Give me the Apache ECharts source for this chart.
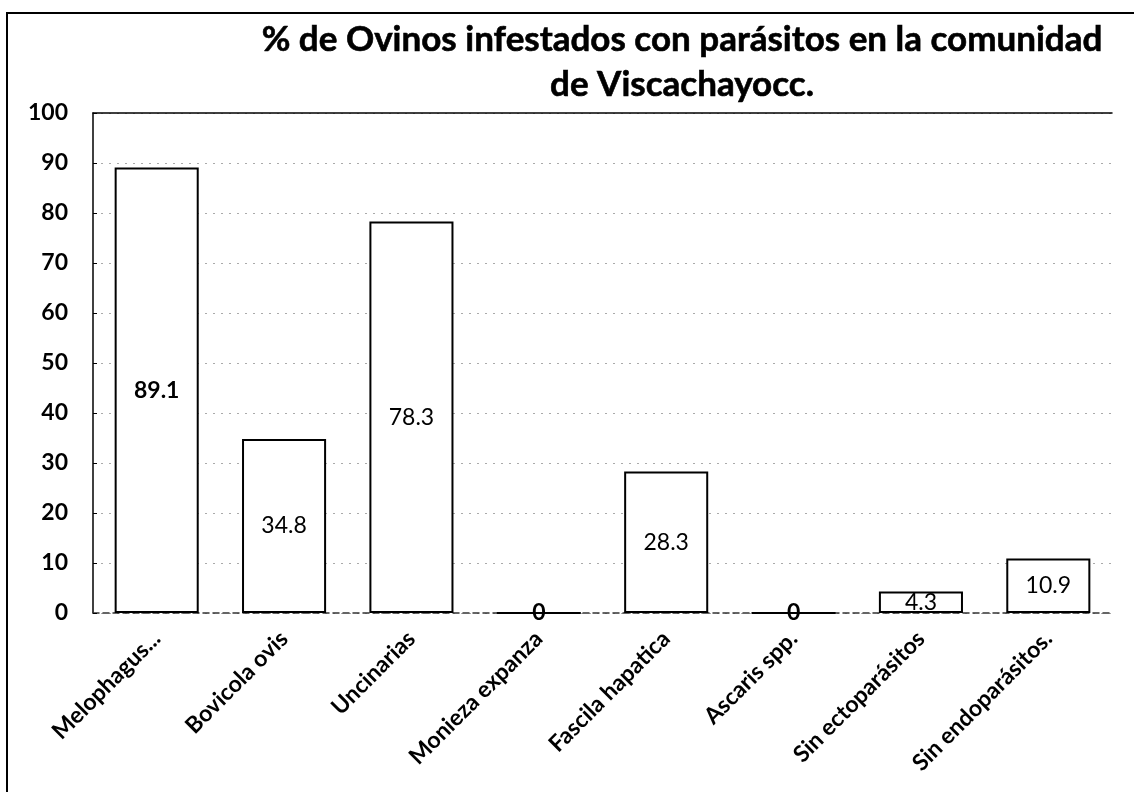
<!DOCTYPE html>
<html>
<head>
<meta charset="utf-8">
<script src="https://cdn.jsdelivr.net/npm/echarts@6/dist/echarts.min.js"></script>
<style>
html,body{margin:0;padding:0;background:#fff;}
#chart{width:1134px;height:792px;}
</style>
</head>
<body>
<div id="chart"></div>
<script>
const titleText = '% de Ovinos infestados con parásitos en la comunidad\nde Viscachayocc.';
const categories = ['Melophagus...', 'Bovicola ovis', 'Uncinarias', 'Monieza expanza', 'Fascila hapatica', 'Ascaris spp.', 'Sin ectoparásitos', 'Sin endoparásitos.'];
const values = [89.1, 34.8, 78.3, 0, 28.3, 0, 4.3, 10.9];
const yTicks = [0, 10, 20, 30, 40, 50, 60, 70, 80, 90, 100];

const chart = echarts.init(document.getElementById('chart'), null, {renderer: 'canvas'});
const FONT = 'Lato, "Open Sans", sans-serif';

chart.setOption({
  backgroundColor: '#fff',
  animation: false,
  title: {
    text: titleText,
    left: 677,
    textAlign: 'center',
    top: 12,
    textStyle: {fontFamily: FONT, fontWeight: 'bold', fontSize: 35, lineHeight: 45, color: '#000',
      textBorderColor: '#000', textBorderWidth: 0.6}
  },
  graphic: [{
    type: 'rect',
    shape: {x: 7, y: 13, width: 1150, height: 800},
    style: {fill: 'none', stroke: '#000', lineWidth: 2},
    silent: true, z: 100
  }],
  grid: {left: 93, right: 22, top: 113, bottom: 179, containLabel: false},
  xAxis: [{
    type: 'category',
    data: categories,
    axisLine: {show: true, lineStyle: {color: '#333', width: 1.5, type: [6, 4]}},
    axisTick: {show: false},
    axisLabel: {
      interval: 0, rotate: 45, margin: 22,
      fontFamily: FONT, fontSize: 23, fontWeight: 'bold', color: '#000'
    }
  }, {
    type: 'category',
    data: categories,
    position: 'top',
    axisLine: {show: true, lineStyle: {color: '#000', width: 1.5}},
    axisTick: {show: false},
    axisLabel: {show: false}
  }],
  yAxis: {
    type: 'value',
    min: yTicks[0], max: yTicks[yTicks.length - 1], interval: 10,
    axisLine: {show: true, lineStyle: {color: '#000', width: 1.5}},
    axisTick: {show: true, inside: true, length: 4, lineStyle: {color: '#000'}},
    axisLabel: {margin: 25, fontFamily: FONT, fontSize: 23, fontWeight: 'bold', color: '#000'},
    splitLine: {show: true, lineStyle: {color: '#aaa', width: 1, type: [2, 6]}}
  },
  series: [{
    type: 'bar',
    xAxisIndex: 0,
    barWidth: '66%',
    data: values.map((v, i) => ({
      value: v,
      label: {fontWeight: (i === 0 || v === 0) ? 'bold' : 'normal'}
    })),
    itemStyle: {color: '#fff', borderColor: '#000', borderWidth: 2},
    label: {
      show: true, position: 'inside',
      fontFamily: FONT, fontSize: 23, color: '#000'
    }
  }]
});
</script>
</body>
</html>
